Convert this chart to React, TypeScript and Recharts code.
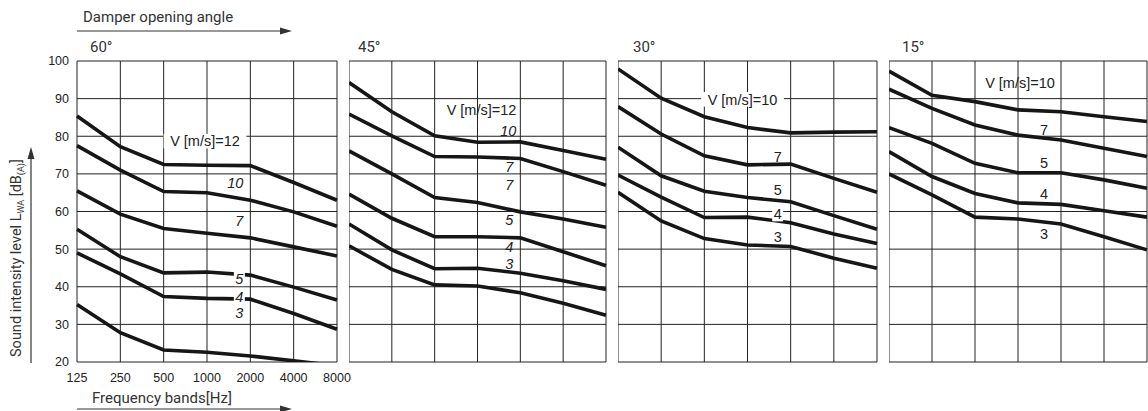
import React from "react";
import { CartesianGrid, Line, LineChart, ReferenceDot, XAxis, YAxis } from "recharts";

const freqBands = ["125", "250", "500", "1000", "2000", "4000", "8000"];
const levelTicks = [20, 30, 40, 50, 60, 70, 80, 90, 100];

// 60°
const a60v12 = [85.4, 77.2, 72.5, 72.3, 72.2, 67.7, 63.0];
const a60v10 = [77.5, 71.0, 65.3, 65.0, 63.0, 59.9, 56.1];
const a60v7 = [65.5, 59.3, 55.5, 54.2, 53.0, 50.6, 48.2];
const a60v5 = [55.3, 48.0, 43.7, 43.9, 43.1, 39.9, 36.5];
const a60v4 = [49.0, 43.4, 37.4, 36.9, 36.7, 32.9, 28.7];
const a60v3 = [35.3, 27.8, 23.2, 22.6, 21.6, 20.3, 19.0];

// 45°
const a45v12 = [94.3, 86.5, 80.1, 78.4, 78.5, 76.2, 73.9];
const a45v10 = [85.9, 80.1, 74.6, 74.5, 74.1, 70.6, 67.0];
const a45v7 = [76.1, 70.0, 63.7, 62.4, 59.9, 58.0, 55.8];
const a45v5 = [64.6, 58.2, 53.3, 53.3, 53.0, 49.3, 45.6];
const a45v4 = [56.7, 49.8, 44.8, 44.9, 43.6, 41.6, 39.3];
const a45v3 = [50.9, 44.6, 40.5, 40.2, 38.4, 35.6, 32.4];

// 30°
const a30v10 = [97.9, 90.1, 85.2, 82.3, 80.9, 81.1, 81.2];
const a30v7 = [87.9, 80.6, 74.8, 72.4, 72.6, 68.8, 65.1];
const a30v5 = [77.1, 69.5, 65.4, 63.7, 62.6, 58.9, 55.3];
const a30v4 = [69.7, 63.8, 58.4, 58.5, 57.0, 54.0, 51.5];
const a30v3 = [65.1, 57.5, 52.8, 51.1, 50.7, 47.6, 44.9];

// 15°
const a15v10 = [97.3, 90.9, 89.2, 87.0, 86.5, 85.2, 83.9];
const a15v7 = [92.5, 87.4, 83.0, 80.3, 79.0, 76.8, 74.6];
const a15v5 = [82.3, 78.1, 72.8, 70.3, 70.3, 68.4, 66.2];
const a15v4 = [75.9, 69.3, 64.8, 62.3, 61.9, 60.2, 58.5];
const a15v3 = [70.0, 64.4, 58.5, 58.0, 56.7, 53.3, 49.8];

type Tag = { text: string; at: string; value: number; dx: number; italic?: boolean; bg?: boolean };

const tags60: Tag[] = [
  { text: "V [m/s]=12", at: "1000", value: 78.7, dx: -2, bg: true },
  { text: "10", at: "2000", value: 67.6, dx: -15, italic: true },
  { text: "7", at: "2000", value: 57.5, dx: -11, italic: true },
  { text: "5", at: "2000", value: 42.1, dx: -11, italic: true, bg: true },
  { text: "4", at: "2000", value: 37.3, dx: -11, italic: true, bg: true },
  { text: "3", at: "2000", value: 33.0, dx: -11, italic: true },
];
const tags45: Tag[] = [
  { text: "V [m/s]=12", at: "1000", value: 87.0, dx: 4 },
  { text: "10", at: "2000", value: 81.4, dx: -12, italic: true },
  { text: "7", at: "2000", value: 71.8, dx: -11, italic: true },
  { text: "7", at: "2000", value: 67.0, dx: -11, italic: true },
  { text: "5", at: "2000", value: 57.7, dx: -11, italic: true },
  { text: "4", at: "2000", value: 50.6, dx: -11, italic: true },
  { text: "3", at: "2000", value: 46.0, dx: -11, italic: true },
];
const tags30: Tag[] = [
  { text: "V [m/s]=10", at: "1000", value: 89.8, dx: -5, bg: true },
  { text: "7", at: "2000", value: 74.5, dx: -13 },
  { text: "5", at: "2000", value: 65.7, dx: -13 },
  { text: "4", at: "2000", value: 59.3, dx: -13, bg: true },
  { text: "3", at: "2000", value: 53.2, dx: -13 },
];
const tags15: Tag[] = [
  { text: "V [m/s]=10", at: "1000", value: 94.1, dx: 2 },
  { text: "7", at: "2000", value: 81.7, dx: -17 },
  { text: "5", at: "2000", value: 72.9, dx: -17 },
  { text: "4", at: "2000", value: 64.7, dx: -17 },
  { text: "3", at: "2000", value: 54.0, dx: -17 },
];

const font = "'Liberation Sans', Arial, sans-serif";
const ink = "#161616";

function TagMark(props: any) {
  const { cx, cy, tag } = props;
  const fs = 14.5;
  const w = tag.text.length * fs * 0.55 + 3;
  const h = fs;
  const x = cx + tag.dx;
  return (
    <g>
      {tag.bg && <rect x={x - w / 2} y={cy - h / 2} width={w} height={h} fill="#fff" />}
      <text
        x={x}
        y={cy}
        dy="0.36em"
        textAnchor="middle"
        fontSize={fs}
        fontFamily={font}
        fontStyle={tag.italic ? "italic" : "normal"}
        fill="#222"
      >
        {tag.text}
      </text>
    </g>
  );
}

function Panel({ left, width, series, tags, axes }: any) {
  const rows = freqBands.map((f, i) => {
    const r: any = { freq: f };
    series.forEach((s: number[], k: number) => (r["s" + k] = s[i]));
    return r;
  });
  const ml = axes ? 77 : 0;
  return (
    <div style={{ position: "absolute", left: left - ml, top: 0 }}>
      <LineChart
        width={width + ml + 14}
        height={390}
        data={rows}
        margin={{ top: 61, right: 14, bottom: axes ? 0 : 28, left: 0 }}
      >
        <CartesianGrid stroke="#222" strokeWidth={1} />
        <XAxis
          dataKey="freq"
          hide={!axes}
          height={28}
          axisLine={false}
          tickLine={false}
          tickMargin={5}
          interval={0}
          tick={{ fontSize: 12.5, fontFamily: font, fill: "#222" }}
        />
        <YAxis
          domain={[20, 100]}
          ticks={levelTicks}
          allowDataOverflow
          hide={!axes}
          width={77}
          axisLine={false}
          tickLine={false}
          tick={{ fontSize: 12.5, fontFamily: font, fill: "#222" }}
        />
        {series.map((_: number[], k: number) => (
          <Line
            key={k}
            type="linear"
            dataKey={"s" + k}
            stroke={ink}
            strokeWidth={3.6}
            dot={false}
            activeDot={false}
            isAnimationActive={false}
          />
        ))}
        {tags.map((t: Tag, i: number) => (
          <ReferenceDot
            key={i}
            x={t.at}
            y={t.value}
            r={0}
            shape={(p: any) => <TagMark {...p} tag={t} />}
          />
        ))}
      </LineChart>
    </div>
  );
}

const titleFont = "Roboto, 'Liberation Sans', sans-serif";

export default function App() {
  return (
    <div
      style={{
        position: "absolute",
        left: 0,
        top: 0,
        width: 1148,
        height: 411,
        overflow: "hidden",
        background: "#fff",
      }}
    >
      <Panel left={77} width={260} axes series={[a60v12, a60v10, a60v7, a60v5, a60v4, a60v3]} tags={tags60} />
      <Panel left={349} width={257} series={[a45v12, a45v10, a45v7, a45v5, a45v4, a45v3]} tags={tags45} />
      <Panel left={618} width={259} series={[a30v10, a30v7, a30v5, a30v4, a30v3]} tags={tags30} />
      <Panel left={889} width={258} series={[a15v10, a15v7, a15v5, a15v4, a15v3]} tags={tags15} />
      <svg
        width={1148}
        height={411}
        style={{ position: "absolute", left: 0, top: 0, pointerEvents: "none" }}
      >
        <g fontFamily={titleFont} fill="#333" fontSize={15}>
          <text x={83} y={22}>Damper opening angle</text>
          <text x={92} y={403}>Frequency bands[Hz]</text>
          <text x={90} y={52}>60°</text>
          <text x={358} y={52}>45°</text>
          <text x={633} y={52}>30°</text>
          <text x={902} y={52}>15°</text>
          <text transform="translate(21,357) rotate(-90)" fontSize={14.5}>
            Sound intensity level{"  "}L
            <tspan fontSize={9} dy={3}>WA</tspan>
            <tspan dy={-3}> [dB</tspan>
            <tspan fontSize={9} dy={3}>(A)</tspan>
            <tspan dy={-3}>]</tspan>
          </text>
        </g>
        <g stroke="#333" strokeWidth={1.2}>
          <line x1={77} y1={31} x2={285} y2={31} />
          <line x1={77} y1={409} x2={285} y2={409} />
          <line x1={31} y1={363} x2={31} y2={156} />
        </g>
        <g fill="#333">
          <polygon points="292,31 280,27.5 280,34.5" />
          <polygon points="292,409 280,405.5 280,412.5" />
          <polygon points="31,147 27.5,159 34.5,159" />
        </g>
      </svg>
    </div>
  );
}
